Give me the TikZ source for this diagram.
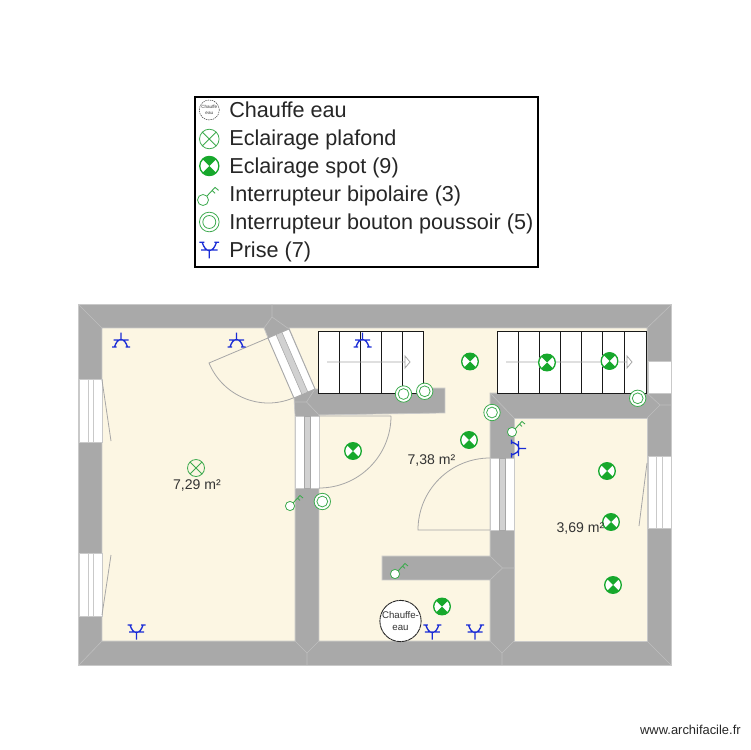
\documentclass[tikz,border=0pt]{standalone}
\usepackage{fontspec}
\setmainfont{Liberation Sans}
\usepackage{tikz}
\usetikzlibrary{calc}
\definecolor{wallgray}{HTML}{A9A9A9}
\definecolor{edgegray}{HTML}{C9C9C9}
\definecolor{jointgray}{HTML}{BEBEBE}
\definecolor{floorcream}{HTML}{FCF6E3}
\definecolor{lampgreen}{HTML}{17A82C}
\definecolor{switchgreen}{HTML}{3DAA4E}
\definecolor{plugblue}{HTML}{1A2CD6}
\tikzstyle{mur}=[fill=wallgray, draw=edgegray, line width=0.4pt]
\tikzstyle{sol}=[fill=floorcream, draw=edgegray, line width=0.4pt]
\tikzstyle{joint}=[draw=jointgray, line width=0.35pt]
\tikzstyle{baie}=[fill=white, draw=edgegray, line width=0.35pt]
\tikzstyle{porte}=[fill=white, draw=wallgray, line width=0.5pt]
\tikzstyle{bande}=[fill=black!18, draw=black!35, line width=0.3pt]
\tikzstyle{battant}=[draw=black!35, line width=0.45pt]
\tikzstyle{marche}=[draw=black!90, line width=0.55pt]
\tikzstyle{surface}=[text=black!80, font=\fontsize{8}{10}\selectfont, inner sep=0pt]
\tikzstyle{entree}=[anchor=west, inner sep=0pt, text=black!85, text height=9pt, text depth=2.6pt, font=\fontsize{12.3}{14}\selectfont]
\tikzstyle{chauffe}=[circle, draw=black!85, fill=white, inner sep=0pt, align=center, text=black!80]
% Symbols: #1 scope options, #2 x, #3 y
\newcommand{\spot}[3][]{%
\begin{scope}[shift={(#2,#3)},#1]
\fill[white] (0,0) circle (9);
\begin{scope}
\clip (0,0) circle (8.5);
\fill[lampgreen] (0,0)--(-11,-11)--(11,-11)--cycle;
\fill[lampgreen] (0,0)--(-11,11)--(11,11)--cycle;
\end{scope}
\draw[lampgreen, line width=0.75pt] (0,0) circle (8.3);
\end{scope}}
\newcommand{\plafond}[3][]{%
\begin{scope}[shift={(#2,#3)},#1]
\draw[switchgreen, line width=0.45pt] (0,0) circle (8.5) (-6,-6)--(6,6) (-6,6)--(6,-6);
\end{scope}}
\newcommand{\clef}[3][]{%
\begin{scope}[shift={(#2,#3)},#1]
\draw[switchgreen, line width=0.45pt, fill=white] (0,0) circle (4.6);
\draw[switchgreen, line width=0.5pt] (3.2,-3.2)--(10,-10.5)--(13,-8) (7.5,-8)--(10,-5.6);
\end{scope}}
\newcommand{\bouton}[3][]{%
\begin{scope}[shift={(#2,#3)},#1]
\draw[switchgreen, line width=0.45pt, fill=white] (0,0) circle (8.2) (0,0) circle (5.4);
\end{scope}}
\newcommand{\prise}[4][]{%
\begin{scope}[shift={(#2,#3)},rotate=#4,#1]
\draw[plugblue, line width=0.75pt] (0,-7.5)--(0,0) (-7.5,0)--(7.5,0)
  (-6.5,7) .. controls (-5,2.5) and (-3,-0.5) .. (0,-0.5) .. controls (3,-0.5) and (5,2.5) .. (6.5,7)
  (-9,7)--(-4.5,7) (4.5,7)--(9,7);
\end{scope}}

\begin{document}
\begin{tikzpicture}[x=0.2mm,y=-0.2mm]
  \useasboundingbox (0,0) rectangle (750,750);

  % Walls and floors
  \path[mur] (78.5,304) rectangle (671.5,665);
  \path[sol] (102,328)--(264,328)--(268,338)--(294,398)--(295,416)--(295,641)--(102,641)--cycle;
  \path[sol] (289,328)--(647,328)--(647,393)--(490,393)--(490,556)--(382,556)--(382,580)--(490,580)--(490,641)--(319,641)--(319,415)--(445,413)--(445,388)--(315,389)--cycle;
  \path[sol] (514,418)--(647,418)--(647,641)--(514,641)--cycle;

  % Wall joints
  \path[joint] (79,305)--(102,328) (79,665)--(102,641) (671,305)--(647,328) (671,665)--(647,641);
  \path[joint] (295,641)--(307,653)--(319,641) (307,653)--(307,665);
  \path[joint] (490,641)--(502,653)--(514,641) (502,653)--(502,665);
  \path[joint] (490,556)--(502.5,568)--(490,580) (502.5,568)--(514,568);
  \path[joint] (647,393)--(660,405)--(647,418) (660,405)--(671,405);
  \path[joint] (490,393)--(514,418);
  \path[joint] (272,304)--(272,317)--(264,328) (272,317)--(289,329);
  \path[joint] (294,402)--(306.5,402)--(315,389) (306.5,402)--(319,415);

  % Doors
  \coordinate (d1a) at (268,338);
  \coordinate (d1b) at (289,329);
  \coordinate (d1c) at (315,389);
  \coordinate (d1d) at (294,398);
  \path[porte] (d1a)--(d1b)--(d1c)--(d1d)--cycle;
  \path[bande] ($(d1a)!.38!(d1b)$)--($(d1a)!.66!(d1b)$)--($(d1d)!.66!(d1c)$)--($(d1d)!.38!(d1c)$)--cycle;
  \path[baie] (295,416) rectangle (319,488);
  \path[bande] (304,416) rectangle (310,488);
  \path[baie] (490,458) rectangle (514,530);
  \path[bande] (499,458) rectangle (505,530);
  \path[battant] (d1a)--(209,363) .. controls (222.8,396.1) and (260.4,411.8) .. (293,398);
  \path[battant] (391,416)--(319,416) (319,488) .. controls (358.8,488) and (391,455.8) .. (391,416);
  \path[battant] (490,530)--(418,530) .. controls (418,490.2) and (450.2,458) .. (490,458);

  % Windows
  \path[baie] (79,379) rectangle (102,442) (88,379)--(88,442) (93,379)--(93,442);
  \path[baie] (79,553) rectangle (102,616) (88,553)--(88,616) (93,553)--(93,616);
  \path[baie] (648,456) rectangle (671,528) (656,456)--(656,528) (662,456)--(662,528);
  \path[baie] (648,361) rectangle (671,393);
  \path[battant] (102,380)--(111,441) (111,555)--(102,615) (647,463)--(639,526);

  % Stairs
  \path[fill=white, marche] (318,331) rectangle (423,393);
  \path[marche] (339.3,331)--(339.3,393) (360.3,331)--(360.3,393) (381.3,331)--(381.3,393) (402.3,331)--(402.3,393);
  \path[battant] (327,362)--(405,362) (405,356)--(410,362)--(405,368)--cycle;
  \path[fill=white, marche] (497,331) rectangle (646,393);
  \path[marche] (518,331)--(518,393) (539.3,331)--(539.3,393) (560.3,331)--(560.3,393) (581.7,331)--(581.7,393) (602.7,331)--(602.7,393) (624,331)--(624,393);
  \path[battant] (506,362)--(627,362) (627,356)--(632,362)--(627,368)--cycle;

  % Equipment
  \plafond{196}{468}
  \spot{470}{361.5}
  \spot{469}{440}
  \spot{353}{451}
  \spot{547}{362.5}
  \spot{609.5}{361}
  \spot{607}{471}
  \spot{611}{522}
  \spot{613}{585}
  \spot{442}{606.5}
  \clef{290}{506}
  \clef{395}{574}
  \clef{512}{432}
  \bouton{403.5}{394}
  \bouton{424.7}{391.3}
  \bouton{492}{412.5}
  \bouton{322.3}{501.5}
  \bouton{637.7}{398.3}
  \prise{121}{340}{0}
  \prise{236.5}{340}{0}
  \prise{362.5}{340}{0}
  \prise{136.5}{632}{180}
  \prise{432.3}{632}{180}
  \prise{475}{632}{180}
  \prise{518.5}{448.5}{-90}
  \node (heater) [chauffe, minimum size=8.2mm, dash pattern=on 3pt off 0.3pt, line width=0.5pt, font=\fontsize{5.5}{6.6}\selectfont] at (400.5,621) {Chauffe-\\eau};

  % Room areas
  \node (room1) [surface] at (197,485) {7,29 m²};
  \node (room2) [surface] at (431.5,460) {7,38 m²};
  \node (room3) [surface] at (580.5,528) {3,69 m²};

  % Legend
  \path[fill=white, draw=black, line width=1.1pt] (195,97) rectangle (538,267);
  \node (leg0) [chauffe, minimum size=4mm, dash pattern=on 0.8pt off 0.5pt, line width=0.25pt, font=\fontsize{2.6}{3.2}\selectfont] at (209.3,110) {Chauffe\\eau};
  \plafond[scale=1.15]{209.3}{139}
  \spot[scale=1.15]{209.3}{166}
  \clef[scale=1.2]{203}{200}
  \bouton[scale=1.2]{209.3}{222}
  \prise[scale=1.1]{209.3}{250}{180}
  \node (leg1) [entree] at (229,111.5) {Chauffe eau};
  \node (leg2) [entree] at (229,139.5) {Eclairage plafond};
  \node (leg3) [entree] at (229,167.5) {Eclairage spot (9)};
  \node (leg4) [entree] at (229,195.5) {Interrupteur bipolaire (3)};
  \node (leg5) [entree] at (229,223.5) {Interrupteur bouton poussoir (5)};
  \node (leg6) [entree] at (229,251.5) {Prise (7)};

  \node (site) [anchor=east, inner sep=0pt, text=black!85, font=\fontsize{7.35}{8}\selectfont] at (741,730) {www.archifacile.fr};
\end{tikzpicture}
\end{document}
